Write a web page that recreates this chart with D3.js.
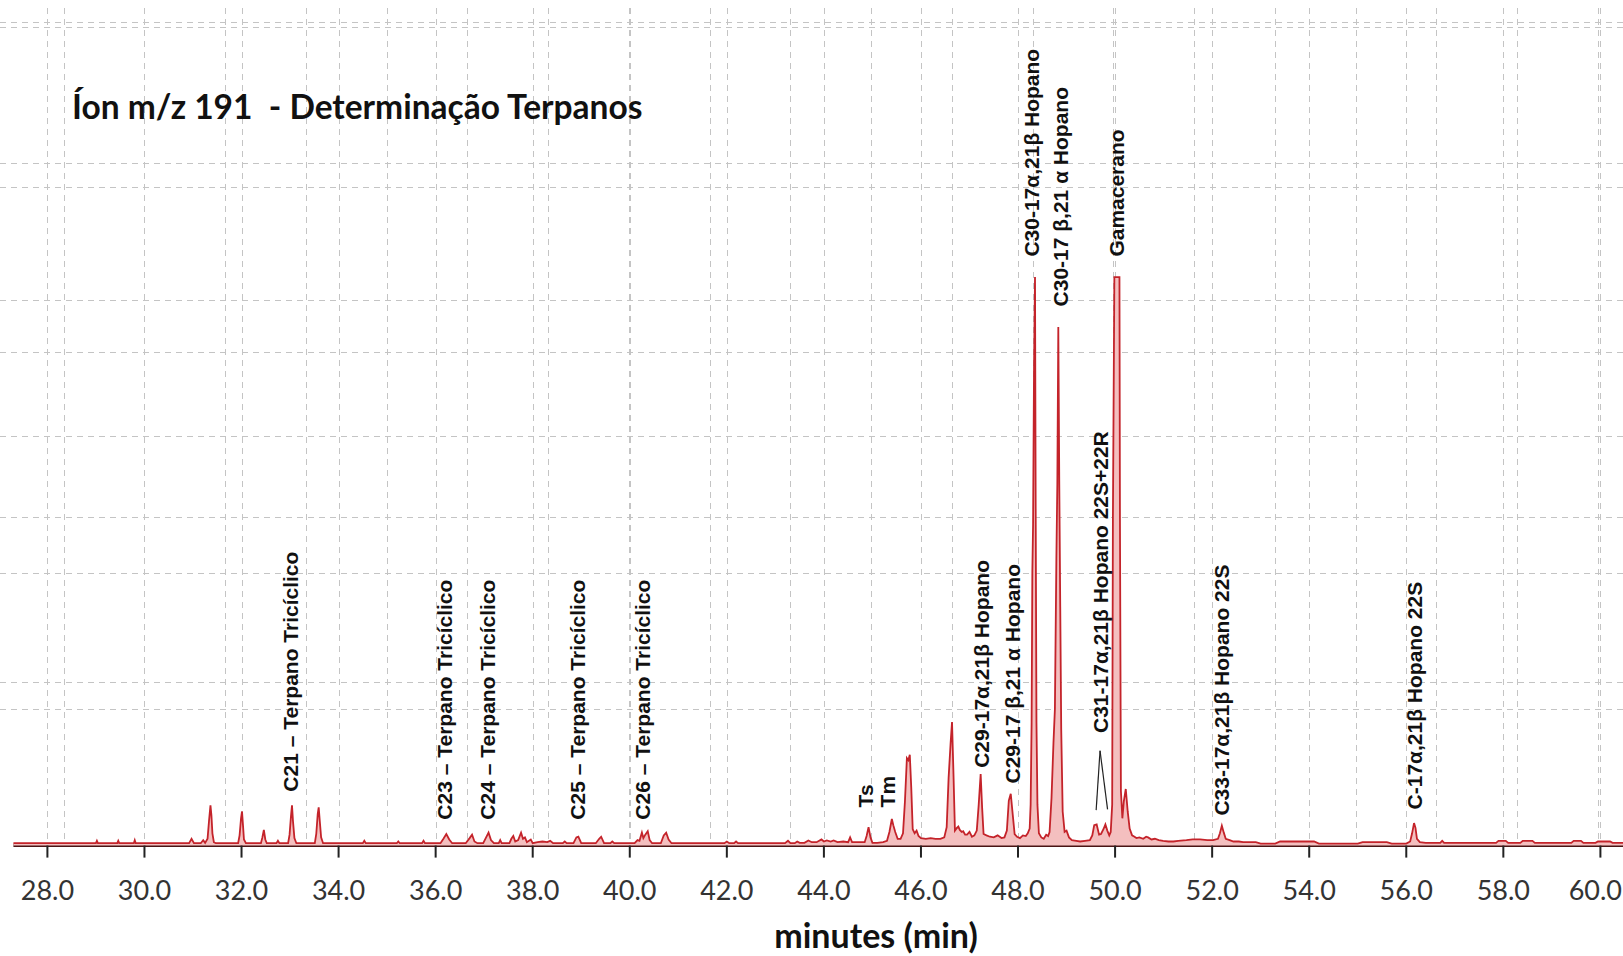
<!DOCTYPE html>
<html>
<head>
<meta charset="utf-8">
<script src="https://cdn.jsdelivr.net/npm/d3@7/dist/d3.min.js"></script>
<style>
  html, body { margin: 0; padding: 0; background: #ffffff; }
  svg { display: block; }
</style>
</head>
<body>
<svg id="chart" width="1623" height="956"></svg>
<script>
// m/z 191 ion chromatogram — retention time (min) vs. signal (relative units)

// Baseline and the C21–C26 tricyclic terpanes
const traceTricyclics = [
  [27.30, 0.35], [29.00, 0.35], [29.02, 0.7], [29.04, 0.35],
  [29.44, 0.35], [29.46, 0.7], [29.48, 0.35],
  [29.78, 0.35], [29.80, 0.8], [29.82, 0.35],
  [30.92, 0.35], [30.97, 1.0], [31.02, 0.35],
  [31.16, 0.35], [31.21, 0.8], [31.25, 0.4],
  [31.30, 1.0], [31.33, 3.6], [31.36, 5.9], [31.38, 4.4], [31.40, 1.8], [31.43, 0.5], [31.47, 0.35],
  [31.93, 0.35], [31.96, 1.5], [31.99, 4.0], [32.01, 5.0], [32.03, 3.0], [32.05, 0.9], [32.09, 0.35],
  [32.40, 0.35], [32.43, 1.2], [32.46, 2.3], [32.49, 0.9], [32.52, 0.35],
  [32.72, 0.35], [32.75, 0.7], [32.78, 0.35],
  [32.96, 0.35], [32.99, 1.6], [33.02, 4.4], [33.04, 5.9], [33.06, 3.6], [33.09, 1.1], [33.13, 0.35],
  [33.51, 0.35], [33.54, 1.7], [33.57, 4.6], [33.59, 5.6], [33.61, 3.8], [33.64, 1.2], [33.68, 0.35],
  [34.50, 0.35], [34.53, 0.7], [34.56, 0.35],
  [35.20, 0.35], [35.23, 0.6], [35.26, 0.35],
  [35.72, 0.35], [35.75, 0.7], [35.78, 0.35],
  [36.10, 0.35], [36.16, 1.0], [36.22, 1.7], [36.28, 0.9], [36.34, 0.35],
  [36.62, 0.35], [36.70, 1.1], [36.75, 1.6], [36.80, 0.6], [36.86, 0.35],
  [36.98, 0.35], [37.04, 1.2], [37.09, 1.9], [37.14, 0.8], [37.20, 0.35],
  [37.30, 0.35], [37.33, 0.8], [37.36, 0.35],
  [37.52, 0.35], [37.56, 1.0], [37.60, 1.4], [37.64, 0.6], [37.70, 0.8], [37.76, 1.9], [37.80, 1.0],
  [37.84, 1.2], [37.88, 0.5], [37.96, 0.9], [38.00, 0.35],
  [38.10, 0.5], [38.20, 0.6], [38.30, 0.5], [38.36, 0.7], [38.42, 0.35],
  [38.62, 0.35], [38.66, 0.6], [38.70, 0.35],
  [38.84, 0.35], [38.90, 1.2], [38.94, 1.3], [39.00, 0.35],
  [39.30, 0.35], [39.37, 1.0], [39.41, 1.3], [39.47, 0.35],
  [39.60, 0.35], [39.64, 0.6], [39.68, 0.35],
  [40.10, 0.35], [40.16, 0.8], [40.20, 0.7], [40.25, 1.9], [40.28, 1.1], [40.32, 1.6], [40.37, 2.1], [40.41, 0.8], [40.46, 0.35],
  [40.64, 0.35], [40.70, 1.5], [40.75, 1.9], [40.80, 0.9], [40.86, 0.35],
  [41.95, 0.35], [42.00, 0.6], [42.05, 0.35], [42.15, 0.35], [42.19, 0.6], [42.23, 0.35]
];

// Ts, Tm and the C29 hopanes
const traceC27C29 = [
  [43.20, 0.35], [43.26, 0.7], [43.31, 0.35], [43.40, 0.35], [43.45, 0.6], [43.50, 0.4],
  [43.60, 0.4], [43.68, 0.75], [43.75, 0.5], [43.85, 0.5], [43.95, 0.9], [44.00, 0.6], [44.06, 0.75],
  [44.14, 0.6], [44.20, 0.75], [44.28, 0.5], [44.40, 0.6], [44.50, 0.5], [44.54, 1.2], [44.58, 0.5], [44.70, 0.5],
  [44.84, 0.5], [44.88, 1.4], [44.92, 2.7], [44.96, 1.2], [45.00, 0.4],
  [45.10, 0.4], [45.22, 0.5], [45.30, 0.7], [45.35, 2.0], [45.40, 3.9], [45.43, 3.0], [45.47, 2.0], [45.52, 1.0], [45.58, 1.0],
  [45.63, 1.8], [45.67, 6.5], [45.71, 12.8], [45.74, 12.5], [45.77, 13.3], [45.80, 8.5], [45.83, 2.4], [45.87, 1.8],
  [45.91, 2.2], [45.95, 1.4], [46.00, 1.1], [46.10, 1.0], [46.20, 1.1], [46.30, 1.0], [46.40, 1.0], [46.48, 1.2],
  [46.53, 2.7], [46.57, 10.0], [46.61, 14.9], [46.64, 18.1], [46.67, 10.5], [46.70, 2.2], [46.74, 2.6], [46.77, 2.8],
  [46.80, 2.3], [46.84, 2.0], [46.87, 2.1], [46.91, 1.6], [46.95, 1.6], [47.00, 2.0], [47.05, 1.3], [47.10, 1.5], [47.15, 2.2],
  [47.19, 6.0], [47.23, 10.5], [47.26, 5.6], [47.29, 1.7], [47.35, 1.5], [47.42, 1.3], [47.50, 1.2], [47.58, 1.5],
  [47.66, 1.1], [47.72, 1.2], [47.77, 2.2],
  [47.81, 6.6], [47.85, 7.6], [47.89, 4.6], [47.93, 1.7], [47.98, 1.3], [48.04, 1.1], [48.10, 1.5], [48.16, 1.4], [48.20, 1.8]
];

// C30 hopanes, C31 doublet and gammacerane
const traceC30C31 = [
  [48.24, 2.5], [48.26, 6], [48.28, 18], [48.295, 40], [48.31, 47], [48.33, 70], [48.35, 83.3], [48.365, 47],
  [48.38, 18], [48.40, 6], [48.43, 1.8],
  [48.48, 1.2], [48.53, 1.0], [48.58, 1.6], [48.62, 1.4], [48.65, 2.0],
  [48.69, 7], [48.73, 15], [48.76, 20], [48.79, 42], [48.81, 53], [48.83, 76], [48.85, 53], [48.87, 35],
  [48.89, 17], [48.92, 5], [48.96, 2.0],
  [49.00, 2.2], [49.05, 1.2], [49.11, 0.8], [49.20, 0.7], [49.28, 0.6], [49.38, 0.7], [49.48, 0.8],
  [49.53, 1.5], [49.57, 3.0], [49.62, 3.1], [49.67, 1.6], [49.71, 1.7], [49.76, 2.4], [49.80, 3.1], [49.84, 2.2],
  [49.88, 1.5], [49.91, 2.0],
  [49.94, 6], [49.955, 48], [49.985, 83.3], [50.09, 83.3], [50.10, 48], [50.12, 8], [50.15, 4], [50.18, 6.5],
  [50.22, 8.3], [50.26, 5], [50.30, 2.5], [50.35, 1.5]
];

// Extended hopanes and tail of the run
const traceLate = [
  [50.40, 1.3], [50.44, 1.1], [50.50, 1.2], [50.58, 1.0], [50.64, 1.3], [50.68, 1.2], [50.75, 0.9], [50.82, 1.0],
  [50.90, 0.8], [50.99, 0.7], [51.10, 0.6], [51.20, 0.6], [51.30, 0.7], [51.47, 0.8], [51.60, 0.9], [51.75, 0.9],
  [51.90, 0.8], [52.02, 0.8], [52.12, 1.0],
  [52.16, 1.8], [52.20, 2.9], [52.24, 1.9], [52.28, 1.0], [52.36, 0.8], [52.44, 0.6], [52.55, 0.6], [52.64, 0.5],
  [52.78, 0.5], [52.90, 0.5],
  [53.00, 0.3], [53.30, 0.3], [53.40, 0.6], [54.10, 0.6], [54.20, 0.3], [55.00, 0.3], [55.10, 0.5], [55.60, 0.5],
  [55.70, 0.3], [56.00, 0.3],
  [56.08, 0.6], [56.12, 1.8], [56.16, 3.3], [56.19, 2.6], [56.22, 1.0], [56.28, 0.5], [56.40, 0.4], [56.70, 0.4],
  [56.74, 0.7], [56.78, 0.4],
  [57.85, 0.4], [57.90, 0.7], [58.05, 0.7], [58.10, 0.4], [58.35, 0.4], [58.40, 0.7], [58.60, 0.7], [58.65, 0.4],
  [59.40, 0.4], [59.45, 0.7], [59.60, 0.7], [59.65, 0.4], [59.90, 0.4], [59.95, 0.6], [60.20, 0.6], [60.25, 0.4],
  [60.50, 0.4]
];

// Axis ticks (minutes)
const tickMinutes = [28, 30, 32, 34, 36, 38, 40, 42, 44, 46, 48, 50, 52, 54, 56, 58, 60];

// Peak identifications: label text, retention time, signal level where the label starts
const peakLabels = [
  { text: "C21 – Terpano Tricíclico", rt: 33.01, level: 7.9 },
  { text: "C23 – Terpano Tricíclico", rt: 36.19, level: 3.8 },
  { text: "C24 – Terpano Tricíclico", rt: 37.07, level: 3.8 },
  { text: "C25 – Terpano Tricíclico", rt: 38.92, level: 3.8 },
  { text: "C26 – Terpano Tricíclico", rt: 40.27, level: 3.8 },
  { text: "Ts", rt: 44.85, level: 5.6 },
  { text: "Tm", rt: 45.32, level: 5.6 },
  { text: "C29-17α,21β Hopano", rt: 47.24, level: 11.4 },
  { text: "C29-17 β,21 α Hopano", rt: 47.89, level: 9.1 },
  { text: "C30-17α,21β Hopano", rt: 48.29, level: 86.3 },
  { text: "C30-17 β,21 α Hopano", rt: 48.88, level: 79.0 },
  { text: "Gamacerano", rt: 50.03, level: 86.3 },
  { text: "C31-17α,21β Hopano 22S+22R", rt: 49.71, level: 16.5 },
  { text: "C33-17α,21β Hopano 22S", rt: 52.19, level: 4.4 },
  { text: "C-17α,21β Hopano 22S", rt: 56.18, level: 5.3 }
];

// Leader lines from the C31 label down to its 22S / 22R pair: [rt, level] from -> to
const c31Leaders = [
  [[49.69, 13.9], [49.61, 5.2]],
  [[49.69, 13.9], [49.845, 5.3]]
];

const chartTitle = "Íon m/z 191  - Determinação Terpanos";
const axisTitle = "minutes (min)";

// ---------------------------------------------------------------------------
const W = 1623, H = 956;
const svg = d3.select("#chart");

const x = d3.scaleLinear().domain([28, 60]).range([47.4, 1600.4]);
const y = d3.scaleLinear().domain([0, 120]).range([845.6, 26.6]);

// secondary (overlaid) dashed grid
const xGridB = d3.scaleLinear().domain([0, 1]).range([63.5, 144.25]);
const yGridB = d3.scaleLinear().domain([0, 1]).range([846.7, 681.7]);

const gridColor = "#c4c4c4";
const grid = svg.append("g").attr("stroke", gridColor).attr("stroke-width", 1)
  .attr("stroke-dasharray", "6,5").attr("fill", "none");

grid.selectAll("line.va").data(tickMinutes).join("line")
  .attr("x1", d => Math.round(x(d)) + 0.5).attr("x2", d => Math.round(x(d)) + 0.5)
  .attr("y1", 8).attr("y2", y(0));
grid.selectAll("line.vb").data(d3.range(0, 20)).join("line")
  .attr("x1", d => Math.round(xGridB(d)) + 0.5).attr("x2", d => Math.round(xGridB(d)) + 0.5)
  .attr("y1", 8).attr("y2", y(0));
grid.selectAll("line.ha").data(d3.range(20, 121, 20)).join("line")
  .attr("x1", 0).attr("x2", W)
  .attr("y1", d => Math.round(y(d)) + 0.5).attr("y2", d => Math.round(y(d)) + 0.5);
grid.selectAll("line.hb").data(d3.range(1, 6)).join("line")
  .attr("x1", 0).attr("x2", W)
  .attr("y1", d => Math.round(yGridB(d)) + 0.5).attr("y2", d => Math.round(yGridB(d)) + 0.5);

// chromatogram
const trace = [].concat(traceTricyclics, traceC27C29, traceC30C31, traceLate);

const area = d3.area()
  .x(d => x(d[0]))
  .y0(y(0))
  .y1(d => y(d[1]));
const line = d3.line()
  .x(d => x(d[0]))
  .y(d => y(d[1]));

// x axis line
svg.append("line")
  .attr("x1", x(27.3)).attr("x2", W)
  .attr("y1", y(0)).attr("y2", y(0))
  .attr("stroke", "#4a1414").attr("stroke-width", 3);

svg.append("path").datum(trace)
  .attr("d", area)
  .attr("fill", "#f4bfbf");

svg.append("path").datum(trace)
  .attr("d", line)
  .attr("fill", "none")
  .attr("stroke", "#c4232a")
  .attr("stroke-width", 1.8)
  .attr("stroke-linejoin", "miter");

// ticks
const axisG = svg.append("g");
axisG.selectAll("line").data(tickMinutes).join("line")
  .attr("x1", d => x(d)).attr("x2", d => x(d))
  .attr("y1", y(0)).attr("y2", y(0) + 12)
  .attr("stroke", "#222").attr("stroke-width", 2);
axisG.selectAll("text").data(tickMinutes).join("text")
  .attr("x", (d, i) => i === tickMinutes.length - 1 ? W - 1 : x(d))
  .attr("y", 900)
  .attr("text-anchor", (d, i) => i === tickMinutes.length - 1 ? "end" : "middle")
  .attr("font-family", "Lato, 'Open Sans', sans-serif")
  .attr("font-size", 27)
  .attr("fill", "#333")
  .text(d => d3.format(".1f")(d));

svg.append("text")
  .attr("x", 876).attr("y", 948)
  .attr("text-anchor", "middle")
  .attr("font-family", "Lato, 'Open Sans', sans-serif")
  .attr("font-weight", 700)
  .attr("font-size", 34)
  .attr("fill", "#111")
  .text(axisTitle);

// peak labels
svg.append("g").selectAll("text").data(peakLabels).join("text")
  .attr("transform", d => `translate(${x(d.rt)},${y(d.level)}) rotate(-90)`)
  .attr("dy", "0.35em")
  .attr("text-anchor", "start")
  .attr("font-family", "'Liberation Sans', Arial, sans-serif")
  .attr("font-weight", 700)
  .attr("font-size", 21)
  .attr("fill", "#111")
  .text(d => d.text);

svg.append("g").selectAll("line").data(c31Leaders).join("line")
  .attr("x1", d => x(d[0][0])).attr("y1", d => y(d[0][1]))
  .attr("x2", d => x(d[1][0])).attr("y2", d => y(d[1][1]))
  .attr("stroke", "#222").attr("stroke-width", 1.2);

// title
svg.append("text")
  .attr("x", 72).attr("y", 119)
  .attr("font-family", "Lato, 'Open Sans', sans-serif")
  .attr("font-weight", 700)
  .attr("font-size", 33.5)
  .attr("fill", "#111")
  .style("white-space", "pre")
  .text(chartTitle);
</script>
</body>
</html>
